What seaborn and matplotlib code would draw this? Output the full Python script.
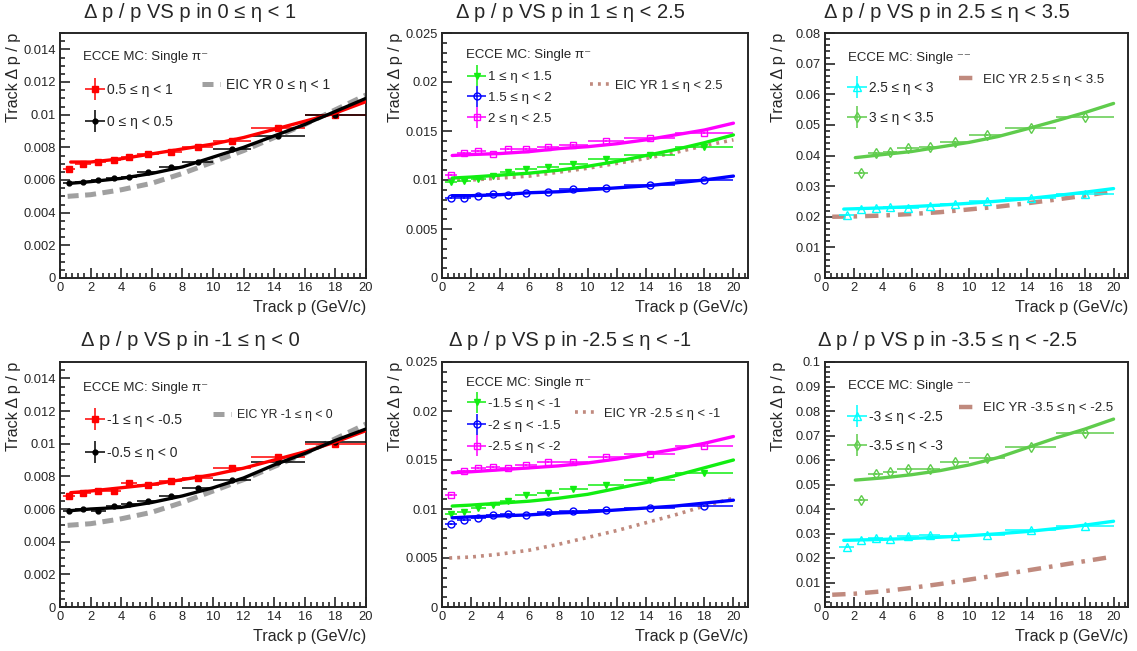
import numpy as np
import seaborn as sns
import matplotlib
matplotlib.use("Agg")
import matplotlib.pyplot as plt
from matplotlib.lines import Line2D
from matplotlib.legend import Legend
from matplotlib.legend_handler import HandlerErrorbar
from matplotlib.container import ErrorbarContainer
from matplotlib.ticker import MultipleLocator, FuncFormatter

sns.set_style("ticks")
plt.rcParams['font.family'] = ['Liberation Sans', 'DejaVu Sans']

#########################################################################################
# track momentum resolution dp/p vs p in six eta ranges, ECCE MC vs EIC YR requirement
#########################################################################################

# bin edges in track p (GeV/c)
edges_all = [0.2, 1, 2, 3, 4, 5, 6.5, 8, 10, 12.5, 16, 20]
edges_from1 = [1, 2, 3, 4, 5, 6.5, 8, 10, 12.5, 16, 20]
edges_from2 = [2, 3, 4, 5, 6.5, 8, 10, 12.5, 16, 20]

# x points of the fit curves and of the YR curves
fit_x = [0.7, 2, 4, 6, 8, 10, 12, 14, 16, 18, 20]
fit_x_from1 = [1.3, 2, 4, 6, 8, 10, 12, 14, 16, 18, 20]
fit_x_from2 = [2.1, 4, 6, 8, 10, 12, 14, 16, 18, 20]
yr_x = [0.5, 2, 4, 6, 8, 10, 12, 14, 16, 18, 20]

# 0 <= eta < 1
eta_05_1 = [0.0067, 0.0070, 0.0071, 0.0072, 0.0074, 0.0076, 0.0077, 0.0080, 0.0084, 0.0092, 0.0100]
eta_05_1_fit = [0.0071, 0.0071, 0.0073, 0.0076, 0.0079, 0.0082, 0.0086, 0.0091, 0.0096, 0.0101, 0.0108]
eta_0_05 = [0.0058, 0.0059, 0.0060, 0.0061, 0.0062, 0.0065, 0.0068, 0.0071, 0.0079, 0.0087, 0.0100]
eta_0_05_fit = [0.0058, 0.0059, 0.0061, 0.0064, 0.0068, 0.0074, 0.0080, 0.0087, 0.0094, 0.0102, 0.0110]
yr_barrel = [0.0050, 0.0051, 0.0054, 0.0058, 0.0064, 0.0071, 0.0078, 0.0086, 0.0094, 0.0103, 0.0112]

# 1 <= eta < 2.5
eta_1_15 = [0.0098, 0.0099, 0.0101, 0.0104, 0.0108, 0.0111, 0.0113, 0.0116, 0.0121, 0.0126, 0.0134]
eta_1_15_fit = [0.0102, 0.0103, 0.0105, 0.0107, 0.0110, 0.0114, 0.0119, 0.0125, 0.0131, 0.0138, 0.0146]
eta_15_2 = [0.0082, 0.0082, 0.0084, 0.0086, 0.0085, 0.0087, 0.0088, 0.0091, 0.0092, 0.0095, 0.0100]
eta_15_2_fit = [0.0084, 0.0084, 0.0085, 0.0087, 0.0088, 0.0090, 0.0092, 0.0094, 0.0097, 0.0100, 0.0104]
eta_2_25 = [0.0105, 0.0128, 0.0130, 0.0127, 0.0132, 0.0132, 0.0134, 0.0136, 0.0140, 0.0143, 0.0148]
eta_2_25_fit = [0.0125, 0.0126, 0.0127, 0.0129, 0.0132, 0.0134, 0.0137, 0.0141, 0.0146, 0.0151, 0.0158]
yr_fwd = [0.0100, 0.0100, 0.0102, 0.0104, 0.0108, 0.0112, 0.0117, 0.0122, 0.0128, 0.0135, 0.0141]

# 2.5 <= eta < 3.5
eta_25_3 = [0.0205, 0.0225, 0.0228, 0.0233, 0.0230, 0.0235, 0.0243, 0.0253, 0.0262, 0.0275]
eta_25_3_fit = [0.0225, 0.0226, 0.0229, 0.0233, 0.0238, 0.0244, 0.0251, 0.0259, 0.0269, 0.0280, 0.0292]
eta_3_35 = [0.0342, 0.0408, 0.0410, 0.0425, 0.0428, 0.0445, 0.0468, 0.0490, 0.0527]
eta_3_35_fit = [0.0393, 0.0403, 0.0413, 0.0428, 0.0443, 0.0462, 0.0487, 0.0513, 0.0540, 0.0570]
yr_far_fwd = [0.0200, 0.0201, 0.0204, 0.0209, 0.0215, 0.0224, 0.0233, 0.0244, 0.0256, 0.0269, 0.0283]

# -1 <= eta < 0
eta_m1_m05 = [0.0068, 0.0070, 0.0071, 0.0071, 0.0076, 0.0075, 0.0077, 0.0079, 0.0085, 0.0092, 0.0100]
eta_m1_m05_fit = [0.0070, 0.0071, 0.0073, 0.0075, 0.0078, 0.0081, 0.0085, 0.0090, 0.0095, 0.0101, 0.0108]
eta_m05_0 = [0.0059, 0.0060, 0.0059, 0.0062, 0.0063, 0.0065, 0.0068, 0.0073, 0.0078, 0.0089, 0.0101]
eta_m05_0_fit = [0.0059, 0.0060, 0.0061, 0.0064, 0.0068, 0.0073, 0.0079, 0.0087, 0.0094, 0.0102, 0.0109]

# -2.5 <= eta < -1
eta_m15_m1 = [0.0095, 0.0097, 0.0101, 0.0104, 0.0108, 0.0114, 0.0116, 0.0120, 0.0124, 0.0130, 0.0137]
eta_m15_m1_fit = [0.0103, 0.0104, 0.0106, 0.0108, 0.0111, 0.0115, 0.0121, 0.0127, 0.0134, 0.0142, 0.0150]
eta_m2_m15 = [0.0085, 0.0089, 0.0091, 0.0094, 0.0095, 0.0094, 0.0097, 0.0098, 0.0099, 0.0101, 0.0103]
eta_m2_m15_fit = [0.0091, 0.0092, 0.0093, 0.0094, 0.0096, 0.0097, 0.0099, 0.0101, 0.0103, 0.0106, 0.0109]
eta_m25_m2 = [0.0114, 0.0139, 0.0142, 0.0143, 0.0142, 0.0145, 0.0148, 0.0148, 0.0153, 0.0156, 0.0164]
eta_m25_m2_fit = [0.0137, 0.0138, 0.0140, 0.0142, 0.0144, 0.0147, 0.0151, 0.0156, 0.0161, 0.0167, 0.0174]
yr_bwd = [0.0050, 0.0051, 0.0054, 0.0058, 0.0064, 0.0071, 0.0078, 0.0086, 0.0094, 0.0103, 0.0111]

# -3.5 <= eta < -2.5
eta_m3_m25 = [0.0243, 0.0273, 0.0283, 0.0278, 0.0288, 0.0293, 0.0290, 0.0295, 0.0315, 0.0330]
eta_m3_m25_fit = [0.0272, 0.0273, 0.0276, 0.0280, 0.0285, 0.0291, 0.0299, 0.0308, 0.0320, 0.0334, 0.0350]
eta_m35_m3 = [0.0437, 0.0541, 0.0553, 0.0565, 0.0563, 0.0591, 0.0610, 0.0655, 0.0710]
eta_m35_m3_fit = [0.0518, 0.0527, 0.0540, 0.0557, 0.0580, 0.0610, 0.0650, 0.0690, 0.0726, 0.0767]
yr_far_bwd = [0.0050, 0.0054, 0.0064, 0.0078, 0.0094, 0.0112, 0.0130, 0.0149, 0.0168, 0.0187, 0.0206]

RED, BLACK, GREY = '#ff0000', '#000000', '#a0a0a0'
GREEN, BLUE, MAGENTA = '#11ee11', '#0000ff', '#ff00ff'
CYAN, GREEN2, BROWN = '#00ffff', '#5fcc4c', '#c08a7e'

DASHED = dict(ls=(0, (2.2, 1.3)), lw=3.6)
DOTTED = dict(ls=(0, (0.8, 1.4)), lw=2.6)
DASHDOT = dict(ls=(0, (3.0, 1.8, 0.8, 1.8)), lw=3.2)

W, H = 1137, 651
fig = plt.figure(figsize=(W / 100, H / 100), dpi=100)

# (label, edges, values, fit x, fit y, colour, marker, filled, marker size)
panels = [
    dict(box=(60, 33, 366, 278), pad_x=190, title_y=12, title='Δ p / p VS p in 0 ≤ η < 1',
         ymax=0.015, major=0.002, minor=0.0005, xmax=20, pi='π⁻',
         series=[('0.5 ≤ η < 1', edges_all, eta_05_1, fit_x, eta_05_1_fit, RED, 's', True, 4.2),
                 ('0 ≤ η < 0.5', edges_all, eta_0_05, fit_x, eta_0_05_fit, BLACK, 'o', True, 3.5)],
         yr=('EIC YR 0 ≤ η < 1', yr_barrel, GREY, DASHED),
         ecce=(0.075, 0.902), ent_x=0.082, ent_y=[0.767, 0.637], fs=10,
         yr_pos=(0.465, 0.788), yr_fs=10, yr_hl=1.25),
    dict(box=(442, 33, 748, 278), pad_x=570, title_y=12, title='Δ p / p VS p in 1 ≤ η < 2.5',
         ymax=0.025, major=0.005, minor=0.001, xmax=21, pi='π⁻',
         series=[('1 ≤ η < 1.5', edges_all, eta_1_15, fit_x, eta_1_15_fit, GREEN, 'v', True, 4.5),
                 ('1.5 ≤ η < 2', edges_all, eta_15_2, fit_x, eta_15_2_fit, BLUE, 'o', False, 5),
                 ('2 ≤ η < 2.5', edges_all, eta_2_25, fit_x, eta_2_25_fit, MAGENTA, 's', False, 5)],
         yr=('EIC YR 1 ≤ η < 2.5', yr_fwd, BROWN, DOTTED),
         ecce=(0.078, 0.91), ent_x=0.082, ent_y=[0.82, 0.735, 0.649], fs=9.6,
         yr_pos=(0.483, 0.784), yr_fs=9.3, yr_hl=1.5),
    dict(box=(825, 33, 1128, 278), pad_x=947, title_y=12, title='Δ p / p VS p in 2.5 ≤ η < 3.5',
         ymax=0.08, major=0.01, minor=0.002, xmax=21, pi='⁻⁻',
         series=[('2.5 ≤ η < 3', edges_from1, eta_25_3, fit_x_from1, eta_25_3_fit, CYAN, '^', False, 5.5),
                 ('3 ≤ η < 3.5', edges_from2, eta_3_35, fit_x_from2, eta_3_35_fit, GREEN2, 'd', False, 5)],
         yr=('EIC YR 2.5 ≤ η < 3.5', yr_far_fwd, BROWN, DASHDOT),
         ecce=(0.076, 0.90), ent_x=0.074, ent_y=[0.776, 0.653], fs=9.8,
         yr_pos=(0.442, 0.81), yr_fs=9.5, yr_hl=1.4),
    dict(box=(60, 362, 366, 607), pad_x=190, title_y=341, title='Δ p / p VS p in -1 ≤ η < 0',
         ymax=0.015, major=0.002, minor=0.0005, xmax=20, pi='π⁻',
         series=[('-1 ≤ η < -0.5', edges_all, eta_m1_m05, fit_x, eta_m1_m05_fit, RED, 's', True, 4.2),
                 ('-0.5 ≤ η < 0', edges_all, eta_m05_0, fit_x, eta_m05_0_fit, BLACK, 'o', True, 3.5)],
         yr=('EIC YR -1 ≤ η < 0', yr_barrel, GREY, DASHED),
         ecce=(0.075, 0.894), ent_x=0.082, ent_y=[0.763, 0.629], fs=10,
         yr_pos=(0.5, 0.784), yr_fs=8.8, yr_hl=1.5),
    dict(box=(442, 362, 748, 607), pad_x=570, title_y=341, title='Δ p / p VS p in -2.5 ≤ η < -1',
         ymax=0.025, major=0.005, minor=0.001, xmax=21, pi='π⁻',
         series=[('-1.5 ≤ η < -1', edges_all, eta_m15_m1, fit_x, eta_m15_m1_fit, GREEN, 'v', True, 4.5),
                 ('-2 ≤ η < -1.5', edges_all, eta_m2_m15, fit_x, eta_m2_m15_fit, BLUE, 'o', False, 5),
                 ('-2.5 ≤ η < -2', edges_all, eta_m25_m2, fit_x, eta_m25_m2_fit, MAGENTA, 's', False, 5)],
         yr=('EIC YR -2.5 ≤ η < -1', yr_bwd, BROWN, DOTTED),
         ecce=(0.078, 0.914), ent_x=0.082, ent_y=[0.829, 0.739, 0.653], fs=9.6,
         yr_pos=(0.435, 0.788), yr_fs=9.3, yr_hl=1.8),
    dict(box=(825, 362, 1128, 607), pad_x=947, title_y=341, title='Δ p / p VS p in -3.5 ≤ η < -2.5',
         ymax=0.1, major=0.01, minor=0.002, xmax=21, pi='⁻⁻',
         series=[('-3 ≤ η < -2.5', edges_from1, eta_m3_m25, fit_x_from1, eta_m3_m25_fit, CYAN, '^', False, 5.5),
                 ('-3.5 ≤ η < -3', edges_from2, eta_m35_m3, fit_x_from2, eta_m35_m3_fit, GREEN2, 'd', False, 5)],
         yr=('EIC YR -3.5 ≤ η < -2.5', yr_far_bwd, BROWN, DASHDOT),
         ecce=(0.076, 0.902), ent_x=0.074, ent_y=[0.776, 0.657], fs=9.8,
         yr_pos=(0.442, 0.812), yr_fs=9.5, yr_hl=1.4),
]

err_handler = {ErrorbarContainer: HandlerErrorbar(xerr_size=0.72, yerr_size=0.8)}


def add_entry(ax, handle, label, x, y, fs, hl, tp):
    lg = Legend(ax, [handle], [label], loc='center left', bbox_to_anchor=(x, y),
                bbox_transform=ax.transAxes, frameon=False, borderpad=0, borderaxespad=0,
                handlelength=hl, handletextpad=tp, fontsize=fs, numpoints=1,
                handler_map=err_handler)
    ax.add_artist(lg)


for p in panels:
    l, t, r, b = p['box']
    ax = fig.add_axes([l / W, 1 - b / H, (r - l) / W, (b - t) / H])

    # YR requirement curve
    yr_label, yr_vals, yr_col, yr_style = p['yr']
    sns.lineplot(x=yr_x, y=yr_vals, ax=ax, color=yr_col, legend=False,
                 dash_capstyle='butt', **yr_style)

    handles = []
    for label, edges, vals, fx, fy, col, mk, filled, ms in p['series']:
        e = np.array(edges)
        xc = (e[:-1] + e[1:]) / 2
        xe = (e[1:] - e[:-1]) / 2
        cont = ax.errorbar(xc, vals, xerr=xe, yerr=p['ymax'] * 0.004, fmt=mk, color=col,
                           mfc=col if filled else 'none', mec=col, ms=ms, mew=1.0,
                           elinewidth=1.1, capsize=0, zorder=3)
        sns.lineplot(x=fx, y=fy, ax=ax, color=col, lw=2.4, legend=False, zorder=4)
        handles.append((cont, label))

    ax.set_xlim(0, p['xmax'])
    ax.set_ylim(0, p['ymax'])
    ax.xaxis.set_major_locator(MultipleLocator(2))
    ax.xaxis.set_minor_locator(MultipleLocator(0.4))
    ax.yaxis.set_major_locator(MultipleLocator(p['major']))
    ax.yaxis.set_minor_locator(MultipleLocator(p['minor']))
    ax.yaxis.set_major_formatter(FuncFormatter(lambda v, pos: '%g' % round(v, 6)))
    ax.tick_params(which='both', direction='in', top=False, right=False,
                   labelsize=9.3, pad=3, width=1.2)
    ax.tick_params(which='major', length=7)
    ax.tick_params(which='minor', length=3.5)
    for s in ax.spines.values():
        s.set_visible(True)
        s.set_linewidth(1.4)

    ax.set_xlabel('Track p (GeV/c)', fontsize=11.6, loc='right')
    ax.xaxis.set_label_coords(1.0, -0.088)
    ax.set_ylabel('Track Δ p / p', fontsize=11.6, loc='top')
    ax.yaxis.set_label_coords(-0.128, 1.0)

    fig.text(p['pad_x'] / W, 1 - p['title_y'] / H, p['title'], fontsize=14.5,
             ha='center', va='center')

    ax.text(p['ecce'][0], p['ecce'][1], 'ECCE MC: Single ' + p['pi'], transform=ax.transAxes,
            fontsize=9.5, va='center', ha='left')

    for (cont, label), y in zip(handles, p['ent_y']):
        add_entry(ax, cont, label, p['ent_x'], y, p['fs'], 1.45, 0.15)

    yr_handle = Line2D([], [], color=yr_col, dash_capstyle='butt', **yr_style)
    add_entry(ax, yr_handle, yr_label, p['yr_pos'][0], p['yr_pos'][1], p['yr_fs'], p['yr_hl'], 0.45)

fig.savefig('out.png', dpi=100)
